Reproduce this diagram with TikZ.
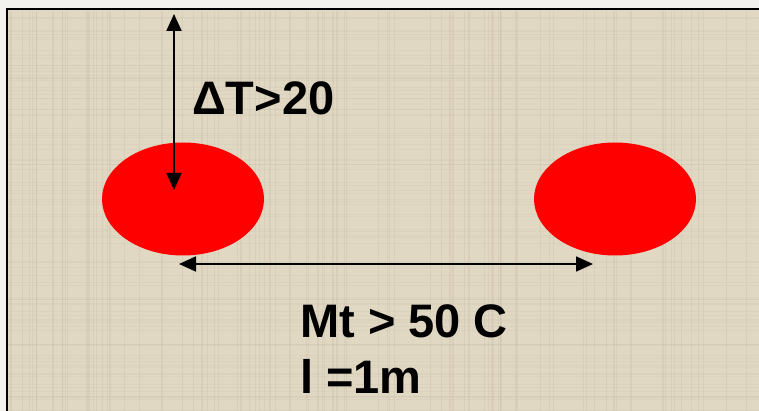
\documentclass[tikz,border=0pt]{standalone}
\usepackage{fontspec}
\setmainfont{Liberation Sans}
\usetikzlibrary{positioning, arrows.meta, shapes.geometric}
\definecolor{linen}{RGB}{225,216,196}
\definecolor{linendark}{RGB}{196,186,165}
\definecolor{paper}{RGB}{243,242,238}
\definecolor{spotred}{RGB}{255,0,0}

\begin{document}
\begin{tikzpicture}[x=1pt, y=-1pt, >={Triangle[length=17pt, width=15pt]},
    spot/.style={ellipse, fill=spotred, minimum width=162pt, minimum height=113pt, inner sep=0pt},
    bigtext/.style={font=\fontsize{47}{56}\selectfont\bfseries, inner sep=0pt, anchor=base west}]
  \useasboundingbox (0,0) rectangle (759,411);
  \fill[paper] (0,0) rectangle (759,411);
  \fill[linen] (6.5,9.5) rectangle (759,411);
  % faint weave
  \pgfmathsetseed{7}
  \foreach \i in {1,...,90} {
    \pgfmathsetmacro{\xx}{8+rnd*750}
    \pgfmathsetmacro{\yy}{11+rnd*400}
    \draw[linendark, opacity=0.3, line width=1.2pt] (\xx,11) -- (\xx,411);
    \draw[linendark, opacity=0.2, line width=1pt] (8,\yy) -- (759,\yy);
  }
  \draw[line width=2pt] (6.5,411) -- (6.5,9.5) -- (759,9.5);

  \node[spot] (hotA) at (183,199) {};
  \node[spot] (hotB) at (615,199) {};

  \coordinate (dtop) at (174,14);
  \coordinate (dbot) at (174,190);
  \draw[<->, line width=2pt] (dtop) -- (dbot);

  \coordinate (spanA) at (179,264);
  \coordinate (spanB) at (593,264);
  \draw[<->, line width=1.8pt] (spanA) -- (spanB);

  \node[bigtext] (dt) at (192,115) {ΔT>20};
  \node[bigtext] (mt) at (300,337) {Mt > 50 C};
  \node[bigtext] (len) at (300,393) {l =1m};
\end{tikzpicture}
\end{document}
